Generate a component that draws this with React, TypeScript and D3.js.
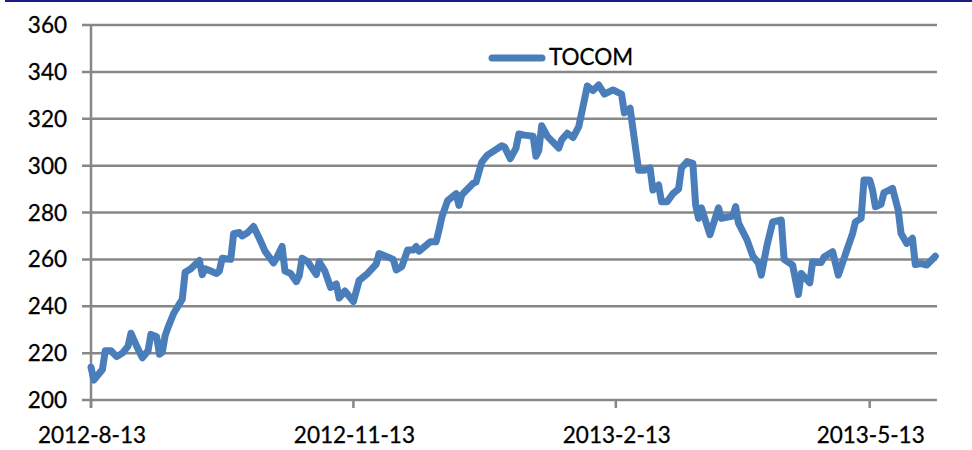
import * as d3 from "d3";

const WIDTH = 972;
const HEIGHT = 450;
const MARGIN = { top: 25, right: 35, bottom: 50, left: 91 };

// series start date, points are given as days after it
const START_DATE = new Date(2012, 7, 13);
const END_OFFSET = 296.6;

const DAY_OFFSETS = [
  0, 1, 2, 4, 5, 7, 9, 11, 13, 14, 16, 18, 20, 21, 23, 24, 25, 26, 27, 29,
  31, 32, 33, 35, 38, 39, 40, 42, 44, 45, 46, 49, 50, 52, 53, 55, 57, 59, 61, 64,
  65, 67, 68, 70, 72, 73, 74, 76, 79, 80, 82, 84, 86, 87, 89, 92, 94, 97, 100, 101,
  106, 107, 109, 111, 113, 114, 115, 117, 119, 121, 122, 123, 125, 128, 129, 130, 134, 135, 137, 139,
  144, 145, 147, 149, 150, 152, 155, 156, 157, 158, 160, 164, 165, 167, 169, 171, 174, 176, 178, 180,
  183, 186, 187, 189, 192, 194, 196, 197, 199, 200, 202, 204, 206, 207, 209, 211, 212, 213, 214, 217,
  220, 221, 225, 226, 227, 230, 232, 234, 235, 237, 239, 242, 243, 246, 248, 249, 252, 253, 256, 257,
  260, 262, 265, 267, 268, 270, 271, 273, 274, 275, 277, 278, 280, 281, 283, 284, 286, 288, 289, 291,
  293, 296,
];

const TOCOM = [
  214, 208.5, 210, 213, 221, 221, 218.5, 220, 223, 228.5, 223, 218, 221, 228, 227, 219.5, 220.5, 227.5, 231, 237,
  241, 243, 254.5, 256, 259.5, 253.5, 256, 255, 254, 255, 260.5, 260, 271, 271.5, 270, 271.5, 274, 269, 263.5, 258.5,
  260.5, 265.5, 255, 254, 250.5, 253, 260.5, 259, 253.5, 259, 255, 248, 249.5, 243.5, 246.5, 242, 251, 254, 258, 262.5,
  260, 255.5, 257, 264, 264, 265.5, 263.5, 265.5, 267.5, 267.5, 272.5, 278, 285, 288, 283, 287.5, 292.5, 293, 301.5, 304.5,
  308.5, 308, 303, 307.5, 313.5, 313, 312.5, 304, 306.5, 317, 312.5, 307.5, 311, 313.8, 312, 316.6, 334, 332, 334.4, 330.5,
  332.3, 330.5, 322.5, 324.5, 298, 298, 299, 289.6, 291.7, 284.6, 284.6, 288, 290, 299, 301.7, 301, 283, 277.5, 282, 270.5,
  282, 277.5, 278.5, 282.5, 275.5, 268.3, 261.5, 258.3, 253.3, 266, 276, 276.8, 260, 257.5, 245, 254, 250, 259, 258.7, 261,
  263.3, 253.3, 264, 271, 276, 277.5, 293.9, 293.9, 289.6, 282.5, 283.5, 288.5, 289.6, 290.3, 281, 271, 266.8, 269, 257.8, 258.2,
  257.6, 261.3,
];

const Y_TICKS = [200, 220, 240, 260, 280, 300, 320, 340, 360];
const X_TICKS = ["2012-8-13", "2012-11-13", "2013-2-13", "2013-5-13"];

const LINE_COLOR = "#4a7ebb";
const GRID_COLOR = "#878787";
const FONT = "Lato, 'Open Sans', sans-serif";
const FONT_SIZE = 22.5;

function parseTick(s: string) {
  const [y, m, d] = s.split("-").map(Number);
  return new Date(y, m - 1, d);
}

export default function App() {
  const boundsWidth = WIDTH - MARGIN.left - MARGIN.right;
  const boundsHeight = HEIGHT - MARGIN.top - MARGIN.bottom;

  const data = DAY_OFFSETS.map((off, i) => ({
    date: d3.timeDay.offset(START_DATE, off),
    value: TOCOM[i],
  }));

  const endDate = new Date(START_DATE.getTime() + END_OFFSET * 86400000);
  const xScale = d3.scaleTime().domain([START_DATE, endDate]).range([0, boundsWidth]);
  const yScale = d3.scaleLinear().domain([200, 360]).range([boundsHeight, 0]);

  const linePath = d3
    .line<{ date: Date; value: number }>()
    .x((d) => xScale(d.date))
    .y((d) => yScale(d.value))(data);

  const grid = Y_TICKS.map((v) => (
    <g key={v}>
      <line
        x1={-9}
        x2={boundsWidth}
        y1={yScale(v)}
        y2={yScale(v)}
        stroke={GRID_COLOR}
        strokeWidth={2.5}
      />
      <text
        x={-24}
        y={yScale(v) + 8}
        textAnchor="end"
        fontSize={FONT_SIZE}
        fontFamily={FONT}
        fill="#000"
        stroke="#000"
        strokeWidth={0.3}
      >
        {v}
      </text>
    </g>
  ));

  const xTicks = X_TICKS.map((t) => {
    const x = xScale(parseTick(t));
    return (
      <g key={t}>
        <line x1={x} x2={x} y1={boundsHeight} y2={boundsHeight + 8} stroke={GRID_COLOR} strokeWidth={2.5} />
        <text
          x={x + 1}
          y={boundsHeight + 43}
          textAnchor="middle"
          fontSize={FONT_SIZE}
          fontFamily={FONT}
          fill="#000"
          stroke="#000"
          strokeWidth={0.3}
        >
          {t}
        </text>
      </g>
    );
  });

  return (
    <div style={{ position: "absolute", left: 0, top: 0 }}>
      <svg width={WIDTH} height={HEIGHT} style={{ display: "block", background: "#fff" }}>
        <line x1={5} x2={WIDTH} y1={1} y2={1} stroke="#1c1c8a" strokeWidth={2} />
        <g transform={`translate(${[MARGIN.left, MARGIN.top].join(",")})`}>
          {grid}
          <line x1={0} x2={0} y1={0} y2={boundsHeight + 8} stroke={GRID_COLOR} strokeWidth={2.5} />
          {xTicks}
          <path
            d={linePath ?? ""}
            fill="none"
            stroke={LINE_COLOR}
            strokeWidth={7}
            strokeLinejoin="round"
            strokeLinecap="round"
          />
        </g>
        {/* legend */}
        <line x1={492} x2={542} y1={58} y2={58} stroke={LINE_COLOR} strokeWidth={7} strokeLinecap="round" />
        <text x={549} y={65} fontSize={FONT_SIZE} fontFamily={FONT} fill="#000" stroke="#000" strokeWidth={0.3}>
          TOCOM
        </text>
      </svg>
    </div>
  );
}
